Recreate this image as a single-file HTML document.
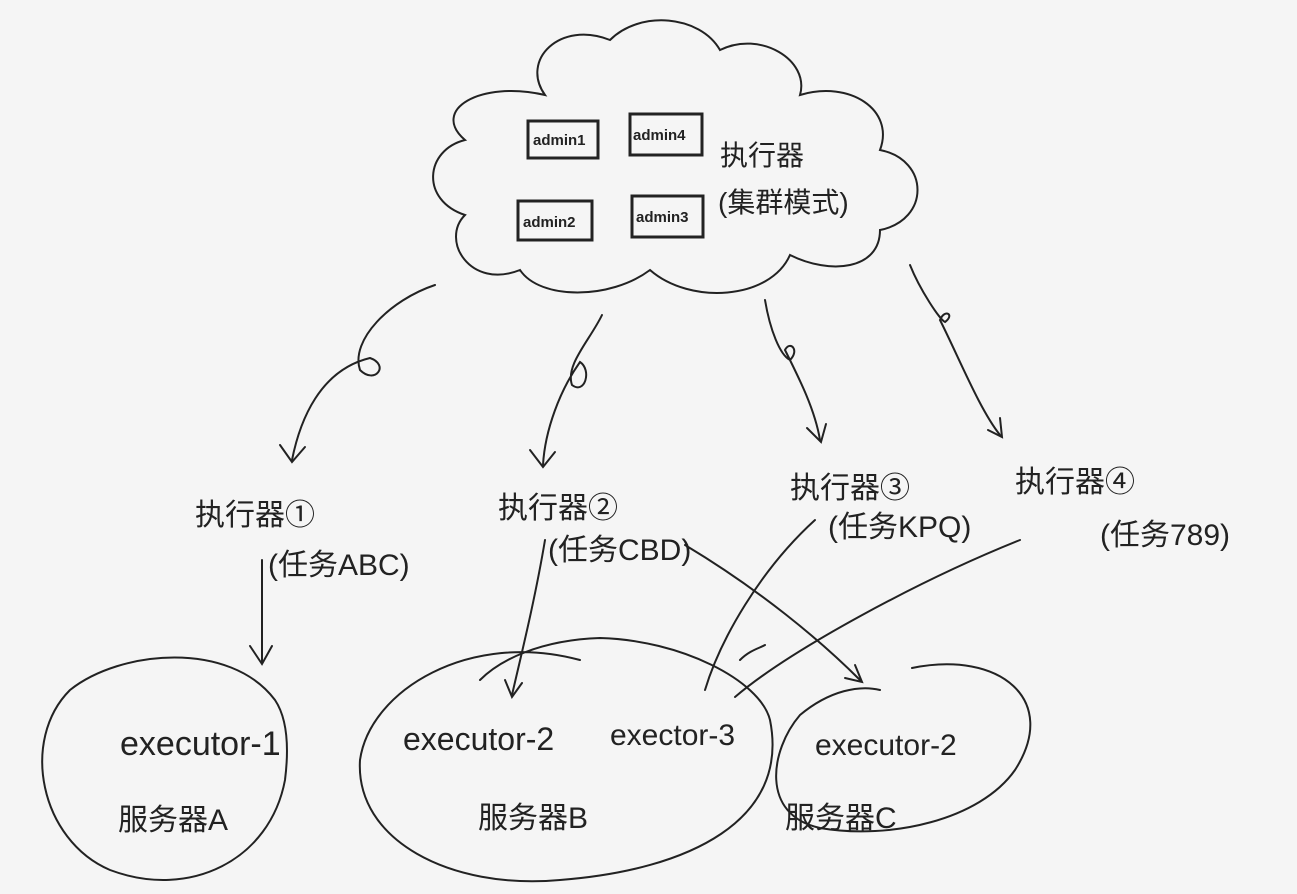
<!DOCTYPE html>
<html><head><meta charset="utf-8"><style>
html,body{margin:0;padding:0;background:#f5f5f5;}
svg{display:block}
text{font-family:"Liberation Sans","Noto Sans CJK SC",sans-serif;fill:#222;}
</style></head><body>
<svg width="1297" height="894" viewBox="0 0 1297 894" xmlns="http://www.w3.org/2000/svg">
<rect width="1297" height="894" fill="#f5f5f5"/>
<g fill="none" stroke="#222" stroke-width="2" stroke-linecap="round">
<!-- cloud -->
<path d="M545,95 C520,60 560,20 610,40 C640,10 700,15 720,50 C760,30 810,60 800,95 C850,80 895,110 880,150 C930,160 930,220 880,230 C880,270 830,275 790,255 C770,300 690,305 650,270 C610,300 540,300 520,270 C470,290 440,240 465,215 C420,200 425,150 465,140 C430,110 480,80 545,95 Z"/>
<!-- admin boxes -->
<rect x="528" y="121" width="70" height="37" stroke-width="3"/>
<rect x="630" y="114" width="72" height="41" stroke-width="3"/>
<rect x="518" y="201" width="74" height="39" stroke-width="3"/>
<rect x="632" y="196" width="71" height="41" stroke-width="3"/>
<!-- arrows from cloud -->
<path d="M435,285 C390,300 350,340 360,370 C375,385 390,365 370,358 C320,370 300,420 292,460"/>
<path d="M280,445 L292,462 L305,447"/>
<path d="M602,315 C590,340 565,365 572,385 C585,395 592,370 580,362 C560,390 545,430 543,465"/>
<path d="M530,450 L543,467 L555,452"/>
<path d="M765,300 C770,330 780,355 790,360 C800,350 790,340 785,350 C800,380 815,410 820,440"/>
<path d="M807,428 L821,442 L826,424"/>
<path d="M910,265 C920,290 940,320 945,322 C955,315 945,308 940,320 C960,360 980,410 1000,435"/>
<path d="M988,430 L1002,437 L1000,418"/>
<!-- server ellipses -->
<path d="M275,700 C230,640 120,650 70,690 C20,740 40,840 110,870 C190,900 270,860 285,780 C290,740 285,715 275,700"/>
<path d="M580,660 C470,630 370,690 360,760 C355,840 450,890 560,880 C690,870 790,820 770,720 C760,680 680,640 600,638 C540,640 500,660 480,680"/>
<path d="M912,668 C1000,650 1060,700 1015,770 C980,820 890,840 820,828 C760,815 770,750 800,715 C830,690 860,685 880,690"/>
<!-- lines to servers -->
<path d="M262,560 L262,662"/>
<path d="M250,646 L262,664 L272,646"/>
<path d="M545,540 C535,600 520,660 512,695"/>
<path d="M505,680 L512,697 L522,683"/>
<path d="M685,545 C760,590 820,640 860,680"/>
<path d="M845,678 L862,682 L855,665"/>
<path d="M815,520 C760,570 720,640 705,690"/>
<path d="M1020,540 C920,580 790,650 735,697"/>
<path d="M740,660 C750,650 760,648 765,645"/>
</g>
<g font-size="30">
<text x="720" y="165" font-size="28">执行器</text>
<text x="718" y="212" font-size="28">(集群模式)</text>
<text x="195" y="525">执行器①</text>
<text x="268" y="575">(任务ABC)</text>
<text x="498" y="518">执行器②</text>
<text x="548" y="560">(任务CBD)</text>
<text x="790" y="498">执行器③</text>
<text x="828" y="537">(任务KPQ)</text>
<text x="1015" y="492">执行器④</text>
<text x="1100" y="545">(任务789)</text>
<text x="120" y="755" font-size="34">executor-1</text>
<text x="118" y="830">服务器A</text>
<text x="403" y="750" font-size="32">executor-2</text>
<text x="610" y="745" font-size="30">exector-3</text>
<text x="478" y="828">服务器B</text>
<text x="815" y="755" font-size="30">executor-2</text>
<text x="785" y="828">服务器C</text>
</g>
<g font-size="15" font-weight="bold">
<text x="533" y="145">admin1</text>
<text x="633" y="140">admin4</text>
<text x="523" y="227">admin2</text>
<text x="636" y="222">admin3</text>
</g>
</svg>
</body></html>
